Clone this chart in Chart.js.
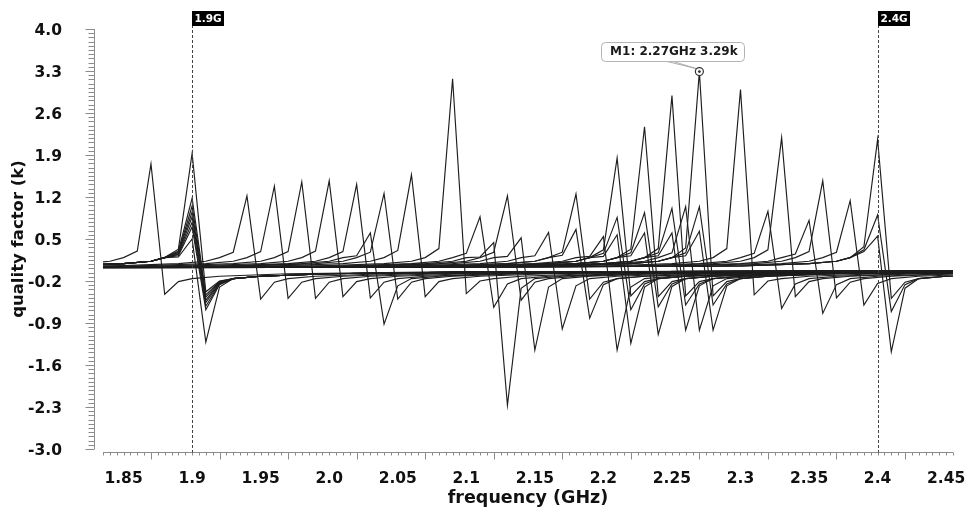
<!DOCTYPE html>
<html>
<head>
<meta charset="utf-8">
<script src="https://cdn.jsdelivr.net/npm/chart.js@4.4.1/dist/chart.umd.min.js"></script>
<style>
  html, body { margin: 0; padding: 0; background: #fff; }
  #wrap { width: 968px; height: 507px; position: relative; }
</style>
</head>
<body>
<div id="wrap"><canvas id="qf"></canvas></div>
<script>
// Q-factor sweep: one trace per resonator, each with a spike at its resonance
// and a negative swing one frequency step later.
const step = 0.01; // GHz between simulated points

const peakFreq = [1.87, 1.9, 1.9, 1.9, 1.9, 1.9, 1.9, 1.9, 1.9, 1.94, 1.96, 1.98, 2.0, 2.02, 2.03, 2.04,
  2.06, 2.09, 2.11, 2.12, 2.13, 2.14, 2.16, 2.18, 2.18, 2.2, 2.21, 2.21, 2.21, 2.23, 2.23, 2.23,
  2.25, 2.25, 2.25, 2.26, 2.27, 2.27, 2.27, 2.3, 2.32, 2.33, 2.35, 2.36, 2.38, 2.4, 2.4, 2.4];
const peakQ = [1.75, 1.93, 1.18, 1.05, 0.95, 0.87, 0.78, 0.70, 0.50, 1.22, 1.38, 1.45, 1.47, 1.41, 0.60, 1.26,
  1.57, 3.17, 0.87, 0.44, 1.22, 0.52, 0.61, 1.25, 0.66, 0.54, 1.85, 0.86, 0.57, 2.37, 0.94, 0.60,
  2.89, 1.01, 0.60, 1.04, 3.29, 1.04, 0.63, 2.99, 0.96, 2.19, 0.81, 1.47, 1.14, 2.16, 0.90, 0.55];
// value one step below the spike
const preQ = [0.30, 0.33, 0.30, 0.28, 0.27, 0.25, 0.24, 0.22, 0.20, 0.28, 0.29, 0.29, 0.30, 0.29, 0.22, 0.28,
  0.31, 0.34, 0.26, 0.20, 0.28, 0.21, 0.22, 0.28, 0.23, 0.21, 0.32, 0.26, 0.21, 0.33, 0.27, 0.22,
  0.34, 0.27, 0.22, 0.27, 0.35, 0.27, 0.22, 0.34, 0.26, 0.32, 0.25, 0.29, 0.28, 0.37, 0.32, 0.29];
// value one step above the spike
const dipQ = [-0.42, -0.38, -0.43, -0.47, -0.52, -0.56, -0.62, -0.68, -1.22, -0.50, -0.49, -0.49, -0.46, -0.48, -0.92, -0.50,
  -0.46, -0.41, -0.64, -2.27, -0.52, -1.35, -1.00, -0.50, -0.82, -1.35, -0.45, -0.68, -1.24, -0.46, -0.63, -1.09,
  -0.45, -0.60, -1.02, -1.02, -0.45, -0.60, -1.02, -0.43, -0.66, -0.46, -0.74, -0.48, -0.60, -0.49, -0.71, -1.38];
// value two steps above the spike
const postQ = [-0.21, -0.20, -0.21, -0.22, -0.23, -0.24, -0.25, -0.26, -0.30, -0.22, -0.22, -0.22, -0.21, -0.22, -0.28, -0.22,
  -0.21, -0.20, -0.25, -0.32, -0.22, -0.30, -0.28, -0.22, -0.26, -0.30, -0.21, -0.25, -0.30, -0.21, -0.25, -0.29,
  -0.21, -0.25, -0.28, -0.28, -0.21, -0.25, -0.28, -0.20, -0.25, -0.21, -0.26, -0.22, -0.24, -0.22, -0.26, -0.32];

// slow approach to zero away from the resonance (offset in GHz, value in k)
const leftTailOffset = [-0.7, -0.3, -0.1, -0.05, -0.03, -0.02];
const leftTailQ = [0.02, 0.03, 0.05, 0.09, 0.13, 0.19];
const rightTailOffset = [0.03, 0.05, 0.1, 0.2, 0.7];
const rightTailQ = [-0.16, -0.12, -0.08, -0.05, -0.02];

const xTickValues = [1.85, 1.9, 1.95, 2.0, 2.05, 2.1, 2.15, 2.2, 2.25, 2.3, 2.35, 2.4, 2.45];
const xTickLabels = ['1.85', '1.9', '1.95', '2.0', '2.05', '2.1', '2.15', '2.2', '2.25', '2.3', '2.35', '2.4', '2.45'];
const yTickValues = [-3.0, -2.3, -1.6, -0.9, -0.2, 0.5, 1.2, 1.9, 2.6, 3.3, 4.0];

const bandEdges = [1.9, 2.4];
const bandLabels = ['1.9G', '2.4G'];
const m1Freq = 2.27;
const m1Q = 3.29;

const xMin = 1.835, xMax = 2.455, yMin = -3.0, yMax = 4.0;
const font = 'DejaVu Sans';

const datasets = peakFreq.map((f0, i) => {
  const pts = [];
  leftTailOffset.forEach((d, k) => pts.push({ x: f0 + d, y: leftTailQ[k] }));
  pts.push({ x: f0 - step, y: preQ[i] });
  pts.push({ x: f0, y: peakQ[i] });
  pts.push({ x: f0 + step, y: dipQ[i] });
  pts.push({ x: f0 + 2 * step, y: postQ[i] });
  rightTailOffset.forEach((d, k) => pts.push({ x: f0 + d, y: rightTailQ[k] }));
  return {
    data: pts,
    borderColor: '#1e1e1e',
    borderWidth: 1.15,
    pointRadius: 0,
    tension: 0,
    fill: false
  };
});

// ruler-style axes, band edge markers and the M1 readout
const decorations = {
  id: 'decorations',
  afterDatasetsDraw(chart) {
    const { ctx, chartArea: area, scales: { x, y } } = chart;
    ctx.save();

    // y ruler
    ctx.strokeStyle = '#8c8c8c';
    ctx.lineWidth = 1;
    const rx = area.left - 8.5;
    ctx.beginPath();
    ctx.moveTo(rx, y.getPixelForValue(yMax));
    ctx.lineTo(rx, y.getPixelForValue(yMin));
    for (let i = 0; i <= 100; i++) {
      const py = Math.round(y.getPixelForValue(yMin + i * 0.07)) + 0.5;
      const len = i % 10 === 0 ? 9 : 6;
      ctx.moveTo(rx - len, py);
      ctx.lineTo(rx, py);
    }
    ctx.stroke();

    // x ruler
    const ry = area.bottom + 3.5;
    ctx.beginPath();
    ctx.moveTo(area.left, ry);
    ctx.lineTo(area.right, ry);
    for (let i = 0; i <= 124; i++) {
      const px = Math.round(x.getPixelForValue(xMin + i * 0.005)) + 0.5;
      const len = (i + 3) % 10 === 0 ? 7 : 3;
      ctx.moveTo(px, ry);
      ctx.lineTo(px, ry + len);
    }
    ctx.stroke();

    // band edges
    bandEdges.forEach((f, i) => {
      const px = Math.round(x.getPixelForValue(f)) + 0.5;
      ctx.strokeStyle = '#444';
      ctx.setLineDash([3, 2]);
      ctx.beginPath();
      ctx.moveTo(px, 25);
      ctx.lineTo(px, ry);
      ctx.stroke();
      ctx.setLineDash([]);
      ctx.fillStyle = '#000';
      ctx.fillRect(px - 0.5, 11, 32, 15);
      ctx.fillStyle = '#fff';
      ctx.font = 'bold 10.5px ' + font;
      ctx.textAlign = 'center';
      ctx.textBaseline = 'middle';
      ctx.fillText(bandLabels[i], px + 15.5, 19);
    });

    // M1 marker
    const mx = x.getPixelForValue(m1Freq);
    const my = y.getPixelForValue(m1Q);
    ctx.strokeStyle = '#9a9a9a';
    ctx.lineWidth = 0.8;
    ctx.beginPath();
    ctx.moveTo(mx - 36, my - 11);
    ctx.lineTo(mx - 3, my - 3);
    ctx.moveTo(mx - 29, my - 11);
    ctx.lineTo(mx - 3, my - 3);
    ctx.stroke();
    ctx.fillStyle = '#fff';
    ctx.strokeStyle = '#333';
    ctx.lineWidth = 1.2;
    ctx.beginPath();
    ctx.arc(mx, my, 4, 0, Math.PI * 2);
    ctx.fill();
    ctx.stroke();
    ctx.fillStyle = '#333';
    ctx.beginPath();
    ctx.arc(mx, my, 1.4, 0, Math.PI * 2);
    ctx.fill();

    const bx = mx - 98, by = my - 30, bw = 143, bh = 19;
    ctx.fillStyle = '#fff';
    ctx.strokeStyle = '#b4b4b4';
    ctx.lineWidth = 1;
    ctx.beginPath();
    ctx.roundRect(Math.round(bx) + 0.5, Math.round(by) + 0.5, bw, bh, 4);
    ctx.fill();
    ctx.stroke();
    ctx.fillStyle = '#1a1a1a';
    ctx.font = 'bold 12px ' + font;
    ctx.textAlign = 'center';
    ctx.textBaseline = 'middle';
    ctx.fillText('M1: ' + m1Freq + 'GHz ' + m1Q + 'k', bx + bw / 2 + 1, by + bh / 2 + 1);

    ctx.restore();
  }
};

new Chart(document.getElementById('qf'), {
  type: 'line',
  data: { datasets },
  options: {
    animation: false,
    responsive: true,
    maintainAspectRatio: false,
    layout: { padding: { top: 29, right: 15, left: 0, bottom: 0 } },
    plugins: {
      legend: { display: false },
      tooltip: { enabled: false }
    },
    scales: {
      x: {
        type: 'linear',
        min: xMin,
        max: xMax,
        afterBuildTicks: s => { s.ticks = xTickValues.map(v => ({ value: v })); },
        afterFit: s => { s.height = 58; s.paddingLeft = 0; s.paddingRight = 0; },
        grid: { display: false, drawTicks: false },
        border: { display: false },
        ticks: {
          autoSkip: false,
          maxRotation: 0,
          padding: 21,
          color: '#111',
          font: { family: font, size: 15.5, weight: 'bold' },
          callback: (v, i) => xTickLabels[i]
        },
        title: {
          display: true,
          text: 'frequency (GHz)',
          color: '#111',
          font: { family: font, size: 17.5, weight: 'bold', lineHeight: 1 },
          padding: { top: 0, bottom: 0 }
        }
      },
      y: {
        min: yMin,
        max: yMax,
        afterBuildTicks: s => { s.ticks = yTickValues.map(v => ({ value: v })); },
        afterFit: s => { s.width = 103; s.paddingTop = 0; s.paddingBottom = 0; },
        grid: { display: false, drawTicks: false },
        border: { display: false },
        ticks: {
          padding: 41,
          labelOffset: 2,
          color: '#111',
          font: { family: font, size: 15.5, weight: 'bold' },
          callback: v => v.toFixed(1)
        },
        title: {
          display: true,
          text: 'quality factor (k)',
          color: '#111',
          font: { family: font, size: 16.5, weight: 'bold', lineHeight: 1 },
          padding: { top: 10, bottom: 0 }
        }
      }
    }
  },
  plugins: [decorations]
});
</script>
</body>
</html>
